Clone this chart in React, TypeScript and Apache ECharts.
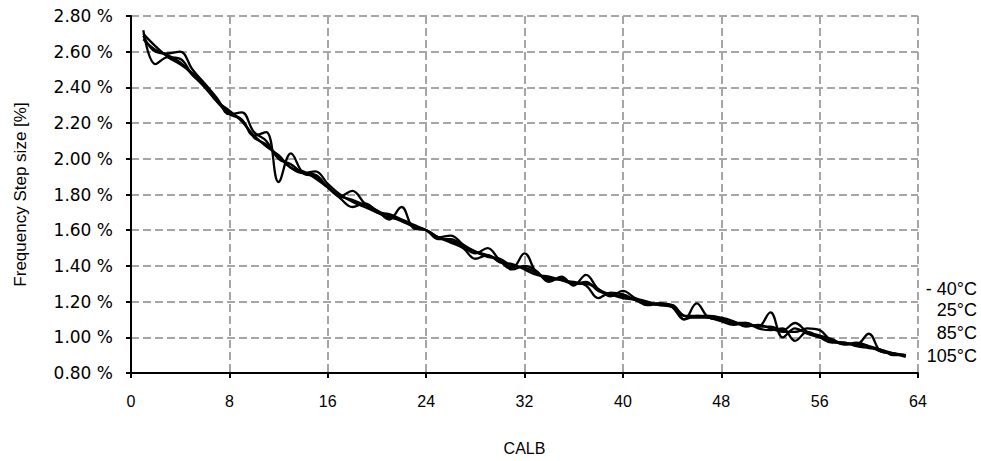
import React, { useEffect, useRef } from "react";
import * as echarts from "echarts";

const calb: number[] = Array.from({ length: 63 }, (_, i) => i + 1);

const seriesNames = ["- 40°C", "25°C", "85°C", "105°C"];

const s40: number[] = [
  2.72, 2.53, 2.57, 2.56, 2.47, 2.41, 2.32, 2.25, 2.22, 2.13,
  2.15, 1.87, 2.03, 1.92, 1.9, 1.84, 1.79, 1.77, 1.74, 1.71,
  1.66, 1.73, 1.61, 1.6, 1.56, 1.54, 1.51, 1.48, 1.46, 1.43,
  1.39, 1.47, 1.36, 1.33, 1.32, 1.3, 1.31, 1.26, 1.24, 1.23,
  1.21, 1.19, 1.18, 1.17, 1.1, 1.19, 1.11, 1.1, 1.08, 1.07,
  1.06, 1.14, 1.0, 1.05, 1.02, 1.0, 0.98, 0.96, 0.96, 1.02,
  0.92, 0.91, 0.9,
];
const s25: number[] = [
  2.69, 2.6, 2.59, 2.6, 2.5, 2.42, 2.34, 2.25, 2.26, 2.15,
  2.1, 2.0, 1.97, 1.92, 1.91, 1.84, 1.78, 1.73, 1.75, 1.71,
  1.68, 1.65, 1.62, 1.6, 1.55, 1.55, 1.51, 1.47, 1.5, 1.43,
  1.38, 1.4, 1.37, 1.31, 1.34, 1.29, 1.35, 1.27, 1.24, 1.22,
  1.21, 1.19, 1.19, 1.18, 1.12, 1.11, 1.11, 1.1, 1.08, 1.08,
  1.06, 1.06, 1.04, 1.08, 1.03, 1.01, 0.99, 0.96, 0.97, 0.95,
  0.92, 0.91, 0.89,
];
const s85: number[] = [
  2.67, 2.61, 2.58, 2.54, 2.47, 2.4, 2.32, 2.27, 2.21, 2.13,
  2.07, 2.02, 1.95, 1.93, 1.89, 1.84, 1.79, 1.82, 1.75, 1.7,
  1.69, 1.66, 1.62, 1.6, 1.56, 1.53, 1.5, 1.44, 1.46, 1.42,
  1.41, 1.38, 1.35, 1.34, 1.32, 1.31, 1.29, 1.22, 1.25, 1.24,
  1.21, 1.18, 1.19, 1.17, 1.1, 1.12, 1.11, 1.09, 1.07, 1.08,
  1.05, 1.04, 1.05, 0.98, 1.03, 1.0, 0.97, 0.97, 0.95, 0.94,
  0.93, 0.9, 0.9,
];
const s105: number[] = [
  2.7, 2.63, 2.57, 2.53, 2.48, 2.42, 2.33, 2.26, 2.22, 2.12,
  2.08, 2.01, 1.95, 1.92, 1.93, 1.86, 1.8, 1.76, 1.73, 1.7,
  1.67, 1.66, 1.63, 1.6, 1.56, 1.57, 1.52, 1.48, 1.45, 1.44,
  1.4, 1.39, 1.36, 1.32, 1.33, 1.3, 1.3, 1.27, 1.23, 1.26,
  1.22, 1.2, 1.18, 1.18, 1.12, 1.12, 1.12, 1.11, 1.09, 1.06,
  1.07, 1.05, 1.03, 1.03, 1.05, 1.04, 0.98, 0.97, 0.96, 0.95,
  0.93, 0.91, 0.9,
];

const allSeries = [s40, s25, s85, s105];
const labelY = [290, 311, 334, 357];

const FONT = "'Liberation Sans', Arial, sans-serif";
const WIDE = "'DejaVu Sans', sans-serif";

export default function App() {
  const ref = useRef<HTMLDivElement>(null);
  useEffect(() => {
    if (!ref.current) return;
    const chart = echarts.init(ref.current, null, { renderer: "svg" });
    const gridLine = {
      show: true,
      lineStyle: { color: "#a6a6a6", width: 2, type: [8, 4] as any },
    };
    chart.setOption({
      animation: false,
      backgroundColor: "#ffffff",
      grid: { left: 131, right: 63, top: 16, bottom: 87, containLabel: false },
      xAxis: {
        type: "value",
        min: 0,
        max: 64,
        interval: 8,
        name: "CALB",
        nameLocation: "middle",
        nameGap: 67,
        nameTextStyle: { fontFamily: FONT, fontSize: 16, color: "#000" },
        axisLine: { show: true, onZero: false, lineStyle: { color: "#000", width: 2 } },
        axisTick: { show: true, length: 5, lineStyle: { color: "#000", width: 2 } },
        axisLabel: { fontFamily: FONT, fontSize: 16, color: "#000", margin: 20 },
        splitLine: gridLine,
      },
      yAxis: {
        type: "value",
        min: 0.8,
        max: 2.8,
        interval: 0.2,
        name: "Frequency Step size [%]",
        nameLocation: "middle",
        nameGap: 102,
        nameTextStyle: { fontFamily: FONT, fontSize: 17, color: "#000" },
        axisLine: { show: true, onZero: false, lineStyle: { color: "#000", width: 2 } },
        axisTick: { show: true, length: 5, lineStyle: { color: "#000", width: 2 } },
        axisLabel: {
          fontFamily: WIDE,
          fontSize: 17,
          color: "#000",
          margin: 18,
          formatter: (v: number) => v.toFixed(2) + " %",
        },
        splitLine: gridLine,
      },
      series: allSeries.map((s, i) => ({
        name: seriesNames[i],
        type: "line",
        smooth: 0.4,
        symbol: "none",
        lineStyle: { color: "#000", width: 2.3 },
        data: s.map((v, j) => [calb[j], v]),
        z: 3,
      })),
      graphic: seriesNames.map((n, i) => ({
        type: "text",
        right: 4,
        top: labelY[i] - 10,
        style: { text: n, fontFamily: FONT, fontSize: 18, fill: "#000" },
      })),
    });
    return () => chart.dispose();
  }, []);
  return <div ref={ref} style={{ width: 981, height: 461, position: "absolute", left: 0, top: 0 }} />;
}
